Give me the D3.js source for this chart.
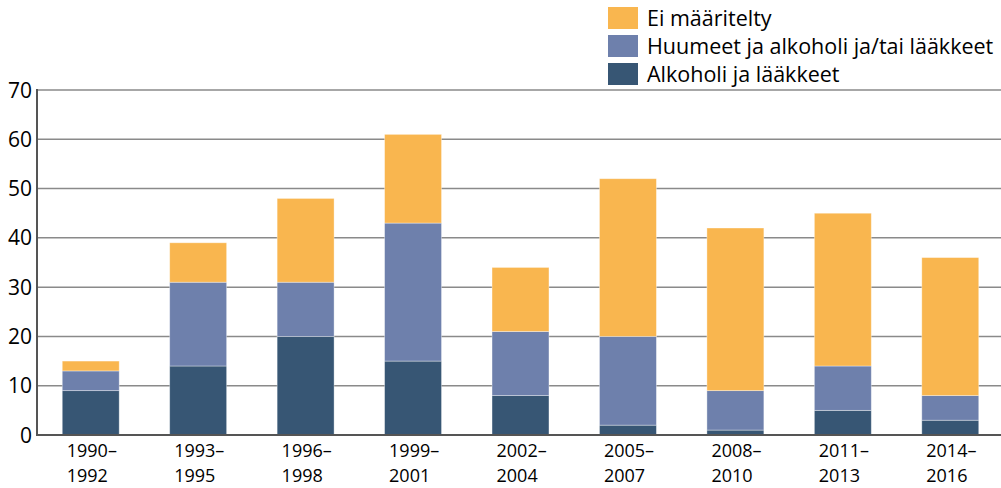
<!DOCTYPE html>
<html><head><meta charset="utf-8">
<script src="https://cdn.jsdelivr.net/npm/d3@7"></script>
<style>body{margin:0;background:#fff}svg{display:block;font-family:"Open Sans",sans-serif}</style>
</head><body><svg id="c" width="1001" height="488"></svg>
<script>
const categories = ["1990–1992","1993–1995","1996–1998","1999–2001","2002–2004","2005–2007","2008–2010","2011–2013","2014–2016"];
const alkoholiLaakkeet = [9,14,20,15,8,2,1,5,3];
const huumeetAlkoholi = [4,17,11,28,13,18,8,9,5];
const eiMaaritelty = [2,8,17,18,13,32,33,31,28];
const seriesNames = ["Alkoholi ja lääkkeet","Huumeet ja alkoholi ja/tai lääkkeet","Ei määritelty"];
const seriesColors = ["#375674","#6e80ac","#f9b64f"];
const yTicks = [0,10,20,30,40,50,60,70];

const svg = d3.select("#c");
const x0 = 37, x1 = 1004, yTop = 90, yBot = 435;
const x = d3.scaleBand().domain(categories).range([x0, x1]).paddingInner(0.47).paddingOuter(0.235);
const y = d3.scaleLinear().domain([0,70]).range([yBot, yTop]);

// gridlines
svg.append("g").selectAll("line").data(yTicks.filter(d=>d>0)).join("line")
  .attr("x1", x0).attr("x2", 1001).attr("y1", d=>y(d)).attr("y2", d=>y(d))
  .attr("stroke", "#8a8a8a").attr("stroke-width", 1.5);

const rows = categories.map((c,i)=>({cat:c, a:alkoholiLaakkeet[i], h:huumeetAlkoholi[i], e:eiMaaritelty[i]}));
const stack = d3.stack().keys(["a","h","e"])(rows);
svg.append("g").selectAll("g").data(stack).join("g")
  .attr("fill", (d,i)=>seriesColors[i])
  .selectAll("rect").data(d=>d).join("rect")
  .attr("x", d=>x(d.data.cat)).attr("width", x.bandwidth())
  .attr("y", d=>y(d[1])).attr("height", d=>y(d[0])-y(d[1]))
  .attr("stroke", "rgba(255,255,255,0.45)").attr("stroke-width", 0.8);

// axes lines
svg.append("line").attr("x1", x0).attr("x2", x0).attr("y1", yTop-1).attr("y2", yBot+1)
  .attr("stroke", "#555").attr("stroke-width", 2);
svg.append("line").attr("x1", x0-1).attr("x2", 1001).attr("y1", yBot).attr("y2", yBot)
  .attr("stroke", "#555").attr("stroke-width", 2);

// y tick labels
svg.append("g").selectAll("text").data(yTicks).join("text")
  .attr("x", 32).attr("y", d=>y(d)).attr("dy", "0.36em").attr("text-anchor", "end")
  .attr("font-size", 21).attr("fill", "#000").text(d=>d);

// x labels (two lines each)
const xg = svg.append("g").attr("font-size", 18).attr("fill", "#000");
xg.selectAll("text.l1").data(categories).join("text").attr("class","l1")
  .attr("x", d=>x(d)+x.bandwidth()/2-24).attr("y", 457).text(d=>d.split("–")[0]+"–");
xg.selectAll("text.l2").data(categories).join("text").attr("class","l2")
  .attr("x", d=>x(d)+x.bandwidth()/2-24).attr("y", 481.5).text(d=>d.split("–")[1]);

// legend
const legendOrder = [2,1,0];
const lg = svg.append("g").selectAll("g").data(legendOrder).join("g")
  .attr("transform", (d,i)=>`translate(608,${7+i*28})`);
lg.append("rect").attr("width", 30).attr("height", 22).attr("fill", d=>seriesColors[d]);
lg.append("text").attr("x", 39).attr("y", 19).attr("font-size", 21.5).attr("fill", "#000").text(d=>seriesNames[d]);
</script></body></html>
